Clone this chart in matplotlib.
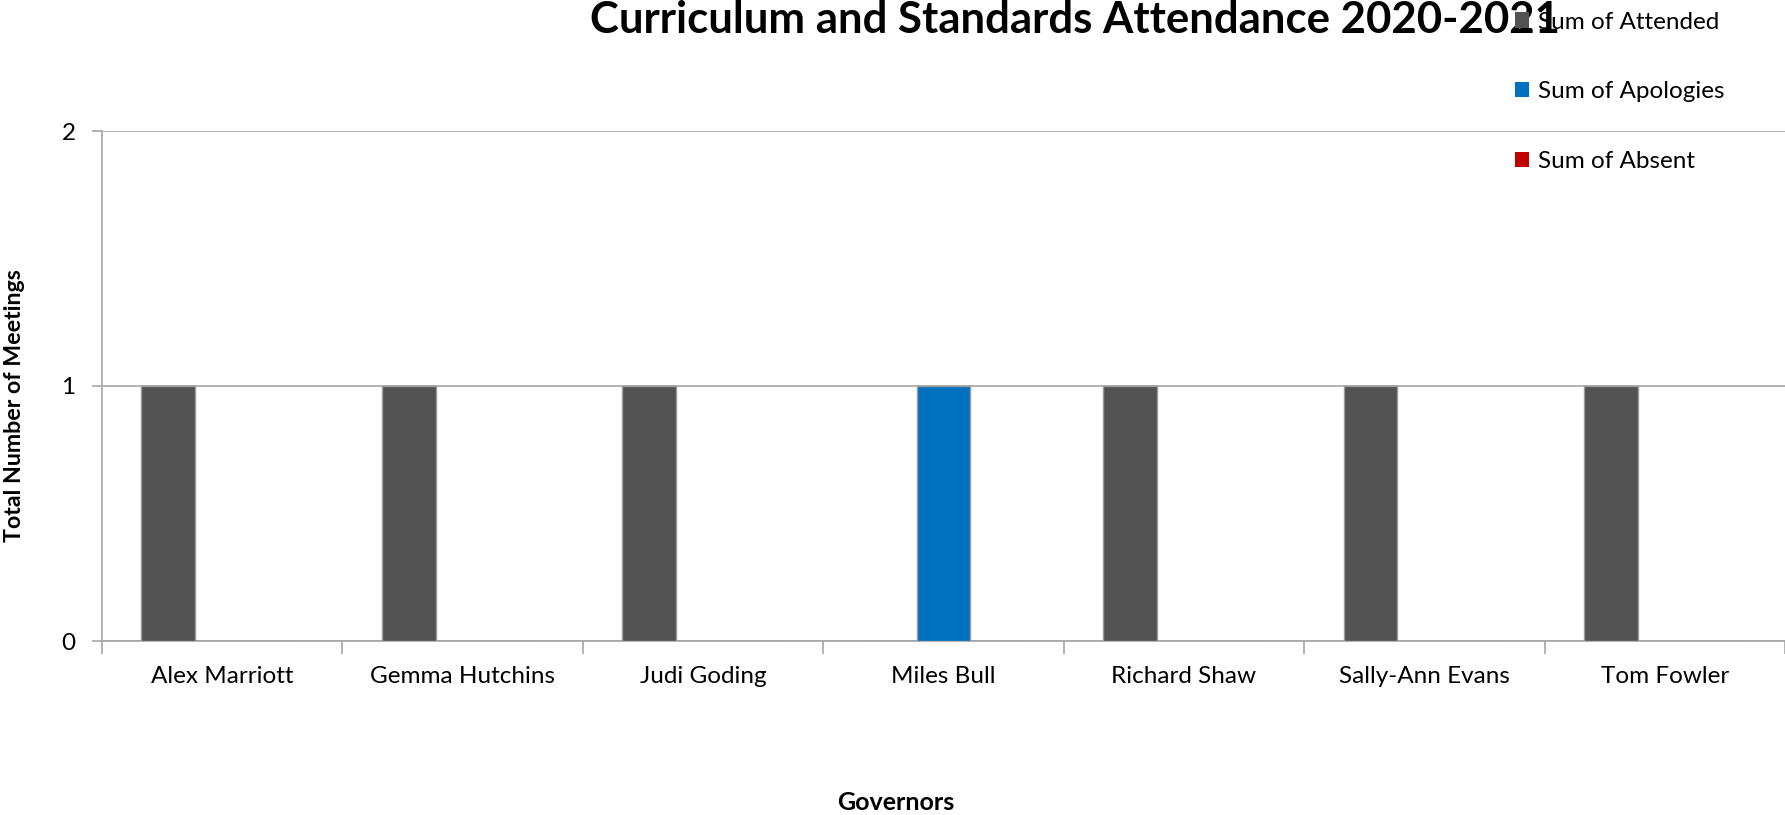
import matplotlib
matplotlib.use("Agg")
import matplotlib.pyplot as plt
from matplotlib.patches import Patch
import numpy as np

governors = ["Alex Marriott", "Gemma Hutchins", "Judi Goding", "Miles Bull",
             "Richard Shaw", "Sally-Ann Evans", "Tom Fowler"]
attended = [1, 1, 1, 0, 1, 1, 1]
apologies = [0, 0, 0, 1, 0, 0, 0]
absent = [0, 0, 0, 0, 0, 0, 0]
series_names = ["Sum of Attended", "Sum of Apologies", "Sum of Absent"]
series_colors = ["#525252", "#0070C0", "#C00000"]
yticks = [0, 1, 2]

plt.rcParams['font.family'] = ['Lato', 'DejaVu Sans']

W, H = 1785, 815
fig = plt.figure(figsize=(W / 100, H / 100), dpi=100)
ax = fig.add_axes([102 / W, 1 - 641 / H, (W - 102) / W, (641 - 131) / H])

grid_c = "#A6A6A6"
x = np.arange(len(governors)) + 0.5
bw = 0.224
for i, (vals, col) in enumerate(zip([attended, apologies, absent], series_colors)):
    ax.bar(x + (i - 1) * bw, vals, width=bw, color=col, edgecolor="#9A9A9A",
           linewidth=1.0, zorder=3)

fs = 17.5
ax.set_xlim(0, len(governors))
ax.set_ylim(0, 2)
ax.set_yticks(yticks)
ax.set_yticklabels([str(t) for t in yticks], fontsize=fs)
ax.set_xticks(np.arange(len(governors) + 1))
ax.set_xticklabels([])
ax.set_xticks(x, minor=True)
ax.set_xticklabels(governors, minor=True, fontsize=fs)
ax.tick_params(axis='x', which='minor', length=0, pad=18)
ax.tick_params(axis='x', which='major', length=9, color=grid_c, width=1.2)
ax.tick_params(axis='y', length=7, color=grid_c, width=1.2, pad=12)
ax.yaxis.grid(True, color=grid_c, linewidth=1.2, zorder=0)
ax.set_axisbelow(True)
for s in ["top", "right"]:
    ax.spines[s].set_visible(False)
for s in ["left", "bottom"]:
    ax.spines[s].set_color(grid_c)
    ax.spines[s].set_linewidth(1.2)

fig.text(15 / W, 1 - 406 / H, "Total Number of Meetings", rotation=90,
         ha='center', va='center', fontsize=16.7, fontweight='bold')
fig.text(896 / W, 1 - 803 / H, "Governors", ha='center', va='center',
         fontsize=18, fontweight='bold')
fig.text(1075 / W, 1 - 33 / H, "Curriculum and Standards Attendance 2020-2021",
         ha='center', va='baseline', fontsize=31.5, fontweight='bold')

handles = [Patch(facecolor=c, edgecolor='none') for c in series_colors]
leg = fig.legend(handles, series_names, loc='upper left',
                 bbox_to_anchor=(1505 / W, 1 - 2 / H), frameon=False,
                 fontsize=fs, handlelength=0.6, handleheight=0.6,
                 handletextpad=0.35, labelspacing=2.0, borderaxespad=0)
leg.set_zorder(10)

fig.savefig("out.png", dpi=100)
